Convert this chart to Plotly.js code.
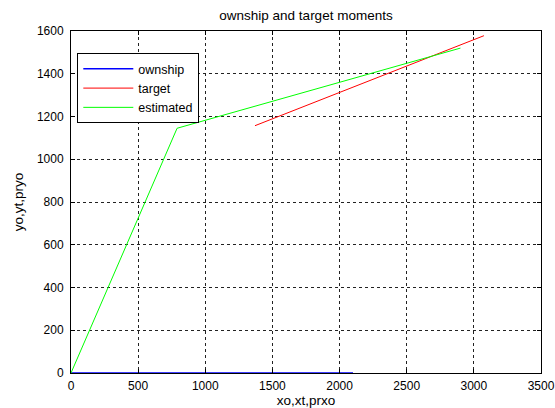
<!DOCTYPE html>
<html>
<head>
<meta charset="utf-8">
<script src="https://cdn.plot.ly/plotly-3.0.1.min.js"></script>
<style>html,body{margin:0;padding:0;background:#fff;}#chart{width:555px;height:408px;}</style>
</head>
<body>
<div id="chart"></div>
<script>
// ownship track
const ownX = [0, 2100];
const ownY = [0, 0];
// target track
const tgtX = [1370, 3075];
const tgtY = [1157, 1578];
// estimated track
const estX = [0, 790, 2900];
const estY = [0, 1145, 1520];

const seriesNames = ['ownship', 'target', 'estimated'];
const xTicks = [0, 500, 1000, 1500, 2000, 2500, 3000, 3500];
const yTicks = [0, 200, 400, 600, 800, 1000, 1200, 1400, 1600];

const traces = [
  {x: ownX, y: ownY, name: seriesNames[0], mode: 'lines', line: {color: '#0000ff', width: 1.5}},
  {x: tgtX, y: tgtY, name: seriesNames[1], mode: 'lines', line: {color: '#ff0000', width: 1}},
  {x: estX, y: estY, name: seriesNames[2], mode: 'lines', line: {color: '#00ff00', width: 1}}
];

const fam = 'Liberation Sans, Arial, sans-serif';
const tickFont = {family: fam, size: 12, color: '#000'};
const labFont = {family: fam, size: 13.5, color: '#000'};
const axisCommon = {
  showline: true, linecolor: '#000', linewidth: 1, mirror: 'ticks',
  ticks: 'inside', ticklen: 4, tickcolor: '#000',
  showgrid: true, gridcolor: '#222', gridwidth: 1, griddash: '3px,3px',
  zeroline: false, tickfont: tickFont, automargin: false
};

const layout = {
  width: 555, height: 408,
  margin: {l: 71, r: 14, t: 31, b: 35},
  paper_bgcolor: '#fff', plot_bgcolor: '#fff',
  font: labFont,
  title: {text: 'ownship and target moments', font: labFont, x: 0.5, xref: 'paper', y: 0.962, yref: 'container', yanchor: 'middle'},
  xaxis: Object.assign({}, axisCommon, {range: [0, 3500], tickvals: xTicks, ticktext: xTicks.map(String),
    ticklabelstandoff: 2,
    title: {text: 'xo,xt,prxo', font: labFont, standoff: 2}}),
  yaxis: Object.assign({}, axisCommon, {range: [0, 1600], tickvals: yTicks, ticktext: yTicks.map(String),
    ticklabelstandoff: 4,
    title: {text: 'yo,yt,pryo', font: labFont, standoff: 10}}),
  showlegend: true,
  legend: {x: 0.0134, y: 0.935, xanchor: 'left', yanchor: 'top', bgcolor: '#fff', bordercolor: '#000', borderwidth: 1,
    font: {family: fam, size: 12.5, color: '#000'}, tracegroupgap: 0, itemwidth: 50}
};

Plotly.newPlot('chart', traces, layout, {displayModeBar: false, staticPlot: true});
</script>
</body>
</html>
